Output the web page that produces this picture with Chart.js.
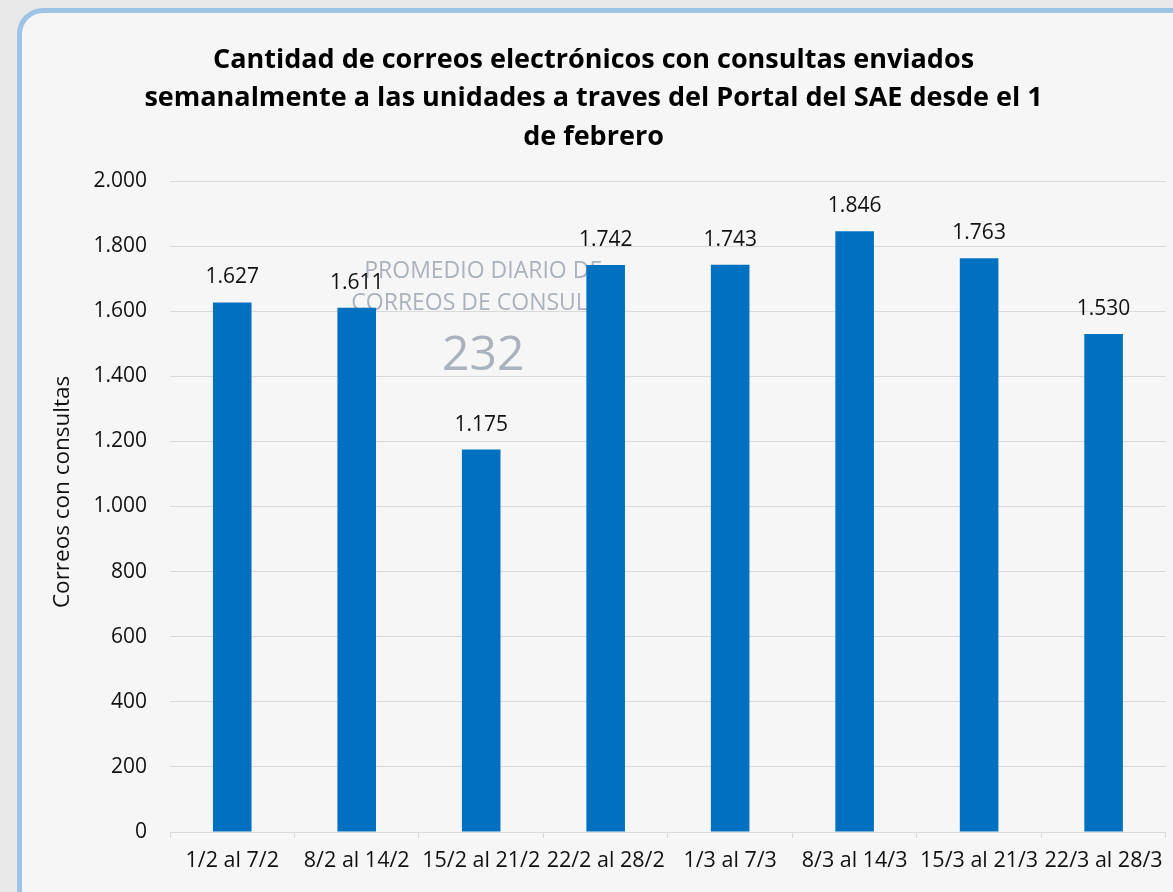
<!DOCTYPE html>
<html>
<head>
<meta charset="utf-8">
<script src="https://cdn.jsdelivr.net/npm/chart.js@4.4.0/dist/chart.umd.min.js"></script>
<style>
  html, body { margin: 0; padding: 0; width: 1173px; height: 892px; overflow: hidden; }
  body { background: #e9e9e9; position: relative; font-family: "Open Sans", sans-serif; }
  #frame {
    position: absolute; left: 17px; top: 8px; width: 1180px; height: 910px;
    border: 5px solid #9dc3e6; border-radius: 26px; background: #f6f6f6;
    box-sizing: border-box;
  }
  #wrap { position: absolute; left: 0; top: 0; width: 1173px; height: 892px; }
</style>
</head>
<body>
<div id="frame"></div>
<div id="wrap"><canvas id="correos" width="1173" height="892"></canvas></div>
<script>
const semanas = ["1/2 al 7/2", "8/2 al 14/2", "15/2 al 21/2", "22/2 al 28/2", "1/3 al 7/3", "8/3 al 14/3", "15/3 al 21/3", "22/3 al 28/3"];
const correos = [1627, 1611, 1175, 1742, 1743, 1846, 1763, 1530];
const tituloLineas = [
  "Cantidad de correos electrónicos con consultas enviados",
  "semanalmente a las unidades a traves del Portal del SAE desde el 1",
  "de febrero",
];
const promedioTexto = ["PROMEDIO DIARIO DE", "CORREOS DE CONSULTA"];
const promedioValor = "232";

const fuente = "Open Sans";
const fmt = (v) => String(v).replace(/\B(?=(\d{3})+(?!\d))/g, ".");

// etiquetas encima de cada barra
const etiquetas = {
  id: "etiquetas",
  afterDatasetsDraw(chart) {
    const ctx = chart.ctx;
    const meta = chart.getDatasetMeta(0);
    ctx.save();
    ctx.font = "21px '" + fuente + "'";
    ctx.fillStyle = "#111";
    ctx.textAlign = "center";
    ctx.textBaseline = "middle";
    meta.data.forEach((bar, i) => {
      ctx.fillText(fmt(correos[i]), bar.x, bar.y - 25);
    });
    ctx.restore();
  },
};

// texto del promedio, detras de las barras
const promedio = {
  id: "promedio",
  beforeDatasetsDraw(chart) {
    const ctx = chart.ctx;
    const cx = chart.scales.x.getPixelForValue(2) + 2;
    ctx.save();
    ctx.fillStyle = "#aab2bd";
    ctx.textAlign = "center";
    ctx.textBaseline = "middle";
    ctx.font = "23px '" + fuente + "'";
    ctx.fillText(promedioTexto[0], cx, 271);
    ctx.fillText(promedioTexto[1], cx, 303);
    ctx.font = "48px '" + fuente + "'";
    ctx.fillText(promedioValor, cx, 356);
    ctx.restore();
  },
};

new Chart(document.getElementById("correos").getContext("2d"), {
  type: "bar",
  data: {
    labels: semanas,
    datasets: [{
      data: correos,
      backgroundColor: "#0070c0",
      categoryPercentage: 1,
      barPercentage: 0.31,
    }],
  },
  options: {
    responsive: false,
    animation: false,
    layout: { padding: { left: 20, right: 6, top: 41, bottom: 0 } },
    plugins: {
      legend: { display: false },
      tooltip: { enabled: false },
      title: {
        display: true,
        text: tituloLineas,
        color: "#000",
        font: { family: fuente, size: 27, weight: "bold", lineHeight: 1.42 },
        padding: { top: 0, bottom: 25 },
      },
    },
    scales: {
      x: {
        grid: { drawOnChartArea: false, drawTicks: true, tickLength: 6, color: "#d9d9d9", offset: true },
        border: { color: "#d9d9d9", width: 1 },
        ticks: { color: "#111", font: { family: fuente, size: 21.5 }, padding: 10, autoSkip: false, maxRotation: 0, minRotation: 0 },
        afterFit: (s) => { s.height = 60; },
      },
      y: {
        min: 0,
        max: 2000,
        grid: { color: "#d9d9d9", drawTicks: false },
        border: { display: false },
        ticks: { stepSize: 200, color: "#111", font: { family: fuente, size: 21 }, padding: 23, callback: (v) => fmt(v) },
        // espacios al inicio para subir el texto como en el original
        title: { display: true, text: "     Correos con consultas", color: "#111", font: { family: fuente, size: 22.5 }, padding: { top: 29, bottom: 0 } },
        afterFit: (s) => { s.width = 150; },
      },
    },
  },
  plugins: [promedio, etiquetas],
});
</script>
</body>
</html>
